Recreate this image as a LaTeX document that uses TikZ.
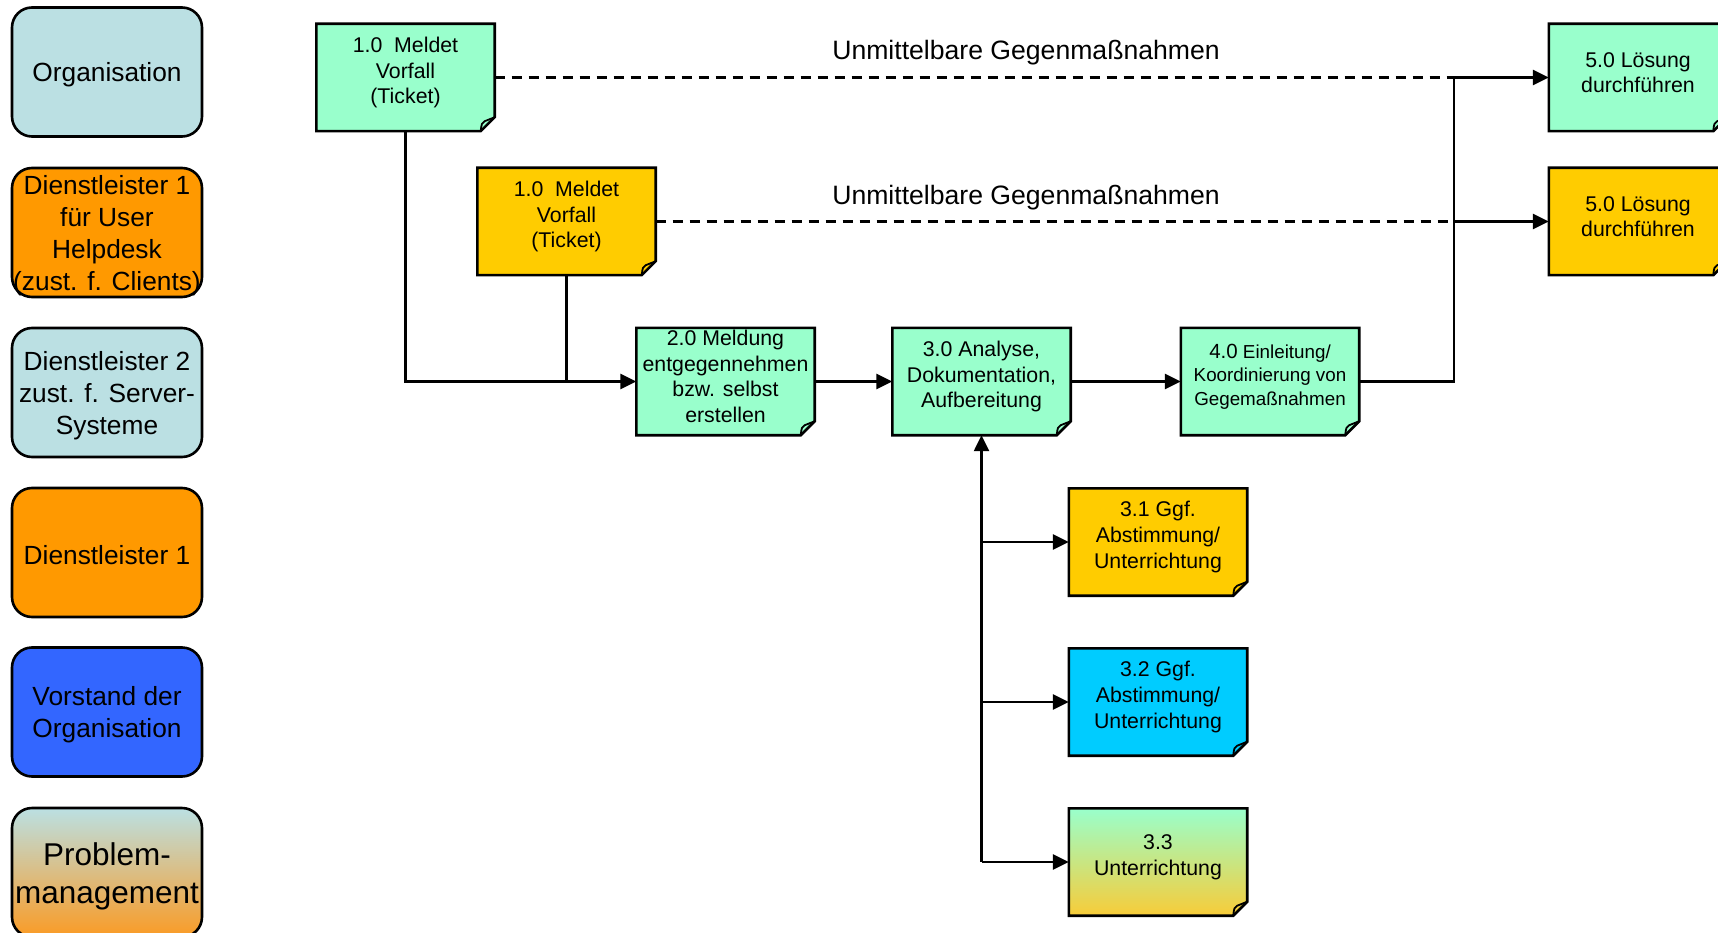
\documentclass[tikz,border=0pt]{standalone}
\usepackage{fontspec}
\setmainfont{Liberation Sans}
\usetikzlibrary{arrows.meta}
\definecolor{mint}{HTML}{99FFCC}
\definecolor{gold}{HTML}{FFCC00}
\definecolor{cyanb}{HTML}{00CCFF}
\definecolor{lblue}{HTML}{BBE0E3}
\definecolor{orng}{HTML}{FF9900}
\definecolor{vblue}{HTML}{3366FF}
\definecolor{porng}{HTML}{FA9B25}
\definecolor{pgold}{HTML}{F8CC38}
\tikzset{
  lane/.style={draw, line width=2.6pt, rounded corners=20pt, minimum width=190pt,
    minimum height=129pt, inner sep=0pt},
  lanetext/.style={align=center, inner sep=0pt, font=\fontsize{26.3}{32}\selectfont},
  procbox/.style={minimum width=178pt, minimum height=107pt, inner sep=0pt, draw=none},
  proctext/.style={align=center, inner sep=0pt, font=\fontsize{21.3}{25.6}\selectfont},
  conn/.style={line width=2.5pt, -{Triangle[length=16pt,width=15pt]}},
  plainline/.style={line width=2.5pt},
  dashline/.style={line width=2.5pt, dash pattern=on 10pt off 7pt},
  lab/.style={inner sep=0pt, font=\fontsize{26.6}{31}\selectfont}
}
\newcommand\lanebx[5]{%
  \node[lane, #3] (#1) at (107,#2) {};
  \node[lanetext, #4] (#1t) at ([yshift=-3pt]#1.center) {#5};
}
\newcommand\procbx[6]{%
  \node[procbox] (#1) at (#2,#3) {};
  \path[draw, line width=2.6pt, line join=miter, #4] (#1.north west) -- (#1.north east)
    -- ([yshift=14pt]#1.south east) -- ([xshift=-14pt]#1.south east)
    -- (#1.south west) -- cycle;
  \draw[line width=1.8pt, line join=round] ([xshift=-14pt]#1.south east)
    .. controls ([xshift=-13pt,yshift=8pt]#1.south east) .. ([xshift=-10pt,yshift=10pt]#1.south east)
    -- ([yshift=14pt]#1.south east);
  \node[proctext, #6] (#1t) at ([yshift=5pt]#1.center) {#5};
}
\begin{document}
\begin{tikzpicture}[x=1pt,y=-1pt]
\useasboundingbox (0,0) rectangle (1718,933);
\clip (0,0) rectangle (1718,933);
% lanes
\lanebx{org}{72}{fill=lblue}{}{Organisation}
\lanebx{dlu}{232.5}{fill=orng}{}{Dienstleister 1\\für User\\Helpdesk\\(zust. f. Clients)}
\lanebx{dls}{392.5}{fill=lblue}{}{Dienstleister 2\\zust. f. Server-\\Systeme}
\lanebx{dla}{552.5}{fill=orng}{}{Dienstleister 1}
\lanebx{vor}{712}{fill=vblue}{}{Vorstand der\\Organisation}
\lanebx{pm}{872.5}{top color=lblue, bottom color=porng}{font=\fontsize{31.5}{38}\selectfont, yshift=-1pt}{Problem-\\management}
% process boxes
\procbx{na}{405.5}{77.5}{fill=mint}{1.0~ Meldet\\Vorfall\\(Ticket)}{}
\procbx{nb}{566.5}{221.5}{fill=gold}{1.0~ Meldet\\Vorfall\\(Ticket)}{}
\procbx{nc}{725.5}{381.5}{fill=mint}{2.0 Meldung\\entgegennehmen\\bzw. selbst\\erstellen}{}
\procbx{nd}{981.5}{381.5}{fill=mint}{3.0 Analyse,\\Dokumentation,\\Aufbereitung}{}
\procbx{ne}{1270}{381.5}{fill=mint}{{\fontsize{20.5}{23.5}\selectfont 4.0} Einleitung/\\Koordinierung von\\Gegemaßnahmen}{font=\fontsize{18.8}{23.5}\selectfont}
\procbx{nfa}{1638}{77.5}{fill=mint}{5.0 Lösung\\durchführen}{}
\procbx{nfb}{1638}{221.5}{fill=gold}{5.0 Lösung\\durchführen}{}
\procbx{ng}{1158}{542}{fill=gold}{3.1 Ggf.\\Abstimmung/\\Unterrichtung}{}
\procbx{nh}{1158}{702}{fill=cyanb}{3.2 Ggf.\\Abstimmung/\\Unterrichtung}{}
\procbx{ni}{1158}{862}{top color=mint, bottom color=pgold}{3.3\\Unterrichtung}{}
% labels
\node[lab] (l1) at (1026,53) {Unmittelbare Gegenmaßnahmen};
\node[lab] (l2) at (1026,198) {Unmittelbare Gegenmaßnahmen};
% connectors
\coordinate (jx) at (1454,0);
\draw[dashline] (na.east) -- (jx |- na.east);
\draw[dashline] (nb.east) -- (jx |- nb.east);
\draw[plainline] (nb.south) -- (nb.south |- nc.west);
\draw[conn] (na.south) |- (nc.west);
\draw[conn] (nc.east) -- (nd.west);
\draw[conn] (nd.east) -- (ne.west);
\draw[conn] (ne.east) -| (jx |- nfa.west) -- (nfa.west);
\draw[conn] (jx |- nfb.west) -- (nfb.west);
\draw[line width=2.5pt, {Triangle[length=16pt,width=15pt]}-] (nd.south) -- (nd.south |- ni.west);
\draw[conn] (nd.south |- ng.west) -- (ng.west);
\draw[conn] (nd.south |- nh.west) -- (nh.west);
\draw[conn] (nd.south |- ni.west) -- (ni.west);
\end{tikzpicture}
\end{document}
